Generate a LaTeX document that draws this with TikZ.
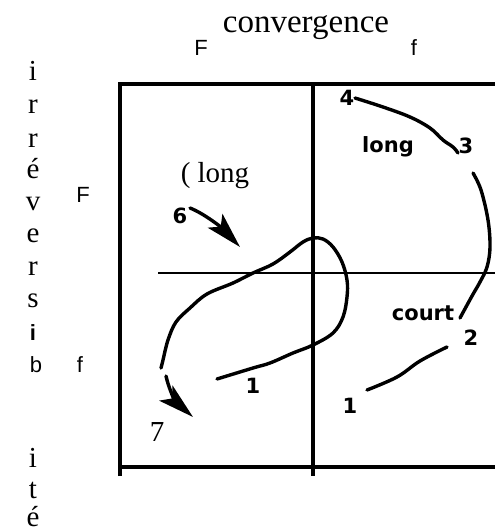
\documentclass[tikz,border=0pt]{standalone}
\usepackage{fontspec}
\setmainfont{Liberation Serif}
\setsansfont{Liberation Sans}
\newfontfamily\pixfont{DejaVu Sans}
\usetikzlibrary{arrows.meta}
\tikzset{
    % Lines
    frame/.style={line width=3.2pt},
    midline/.style={line width=2.2pt},
    sketch/.style={line width=3.4pt, line cap=round, line join=round},
    bigtip/.style={-{Stealth[length=36pt,width=20pt,inset=8pt]}},
    % Labels
    titlelbl/.style={font=\fontsize{33}{33}\selectfont, anchor=base, inner sep=0pt},
    vlet/.style={font=\fontsize{29}{29}\selectfont, anchor=base, inner sep=0pt},
    seriflbl/.style={font=\fontsize{29}{29}\selectfont, anchor=base, inner sep=0pt},
    sanslbl/.style={font=\fontsize{22}{22}\selectfont\sffamily, anchor=base, inner sep=0pt},
    numlbl/.style={font=\fontsize{21}{21}\selectfont\pixfont\bfseries, anchor=base, inner sep=0pt}
}

\begin{document}
\begin{tikzpicture}[x=1pt, y=-1pt]
\useasboundingbox (0,0) rectangle (495,531);

% Frame
\draw[frame] (120,476) -- (120,84) -- (495,84);
\draw[frame] (120,467) -- (495,467);
\draw[frame] (313,84) -- (313,476);
\draw[midline] (158,273) -- (495,273);

% Axis titles
\node[titlelbl] (conv) at (306,32) {convergence};
\node[sanslbl] (Ftop) at (201,55) {F};
\node[sanslbl] (ftop) at (414,55) {f};
\node[sanslbl] (Fleft) at (83,202) {F};
\node[sanslbl] (fleft) at (80,372) {f};

\foreach \ch/\yy [count=\k] in {i/80, r/113, r/147, é/178, v/210, e/242, r/275, s/307, i/467, t/498, é/526}
    \node[vlet] (v\k) at (33,\yy) {\ch};
\node[sanslbl] (vi) at (33,340) {\bfseries i};
\node[sanslbl] (vb) at (36,372) {b};

% Labels in the quadrants
\node[seriflbl] (paren) at (215,182) {( long};
\node[seriflbl] (seven) at (157,441) {7};
\node[numlbl] (n4) at (347,105) {4};
\node[numlbl] (lg) at (388,152) {long};
\node[numlbl] (n3) at (466,153) {3};
\node[numlbl] (ct) at (423,320) {court};
\node[numlbl] (n2) at (471,345) {2};
\node[numlbl] (n1r) at (350,413) {1};
\node[numlbl] (n1l) at (253,393) {1};
\node[numlbl] (n6) at (180,223) {6};

% Path 4 - 3
\draw[sketch] plot[smooth, tension=0.6] coordinates {(355,98) (383,107) (410,117) (430,128) (443,140) (453,147) (458,153)};
% Path 3 - court
\draw[sketch] plot[smooth, tension=0.6] coordinates {(473,173) (481,190) (488,220) (490,247) (487,267) (480,282) (472,296) (460,318)};
% Path 2 - 1
\draw[sketch] plot[smooth, tension=0.6] coordinates {(447,347) (420,361) (397,377) (367,390)};
% Loop
\draw[sketch] plot[smooth, tension=0.6] coordinates {(161,368) (163,360) (168,340) (176,322) (190,308) (207,294) (233,283) (253,273) (273,264) (290,252) (303,242) (313,238) (323,239) (333,247) (342,262) (347,280) (347,297) (343,317) (333,333) (313,345) (293,353) (270,363) (253,368) (217,379)};

% Arrows 6 and 7
\draw[sketch, bigtip] (190,208) .. controls (205,214) and (222,228) .. (240,247);
\draw[sketch, bigtip] (166,376) .. controls (169,390) and (176,402) .. (193,417);

\end{tikzpicture}
\end{document}
